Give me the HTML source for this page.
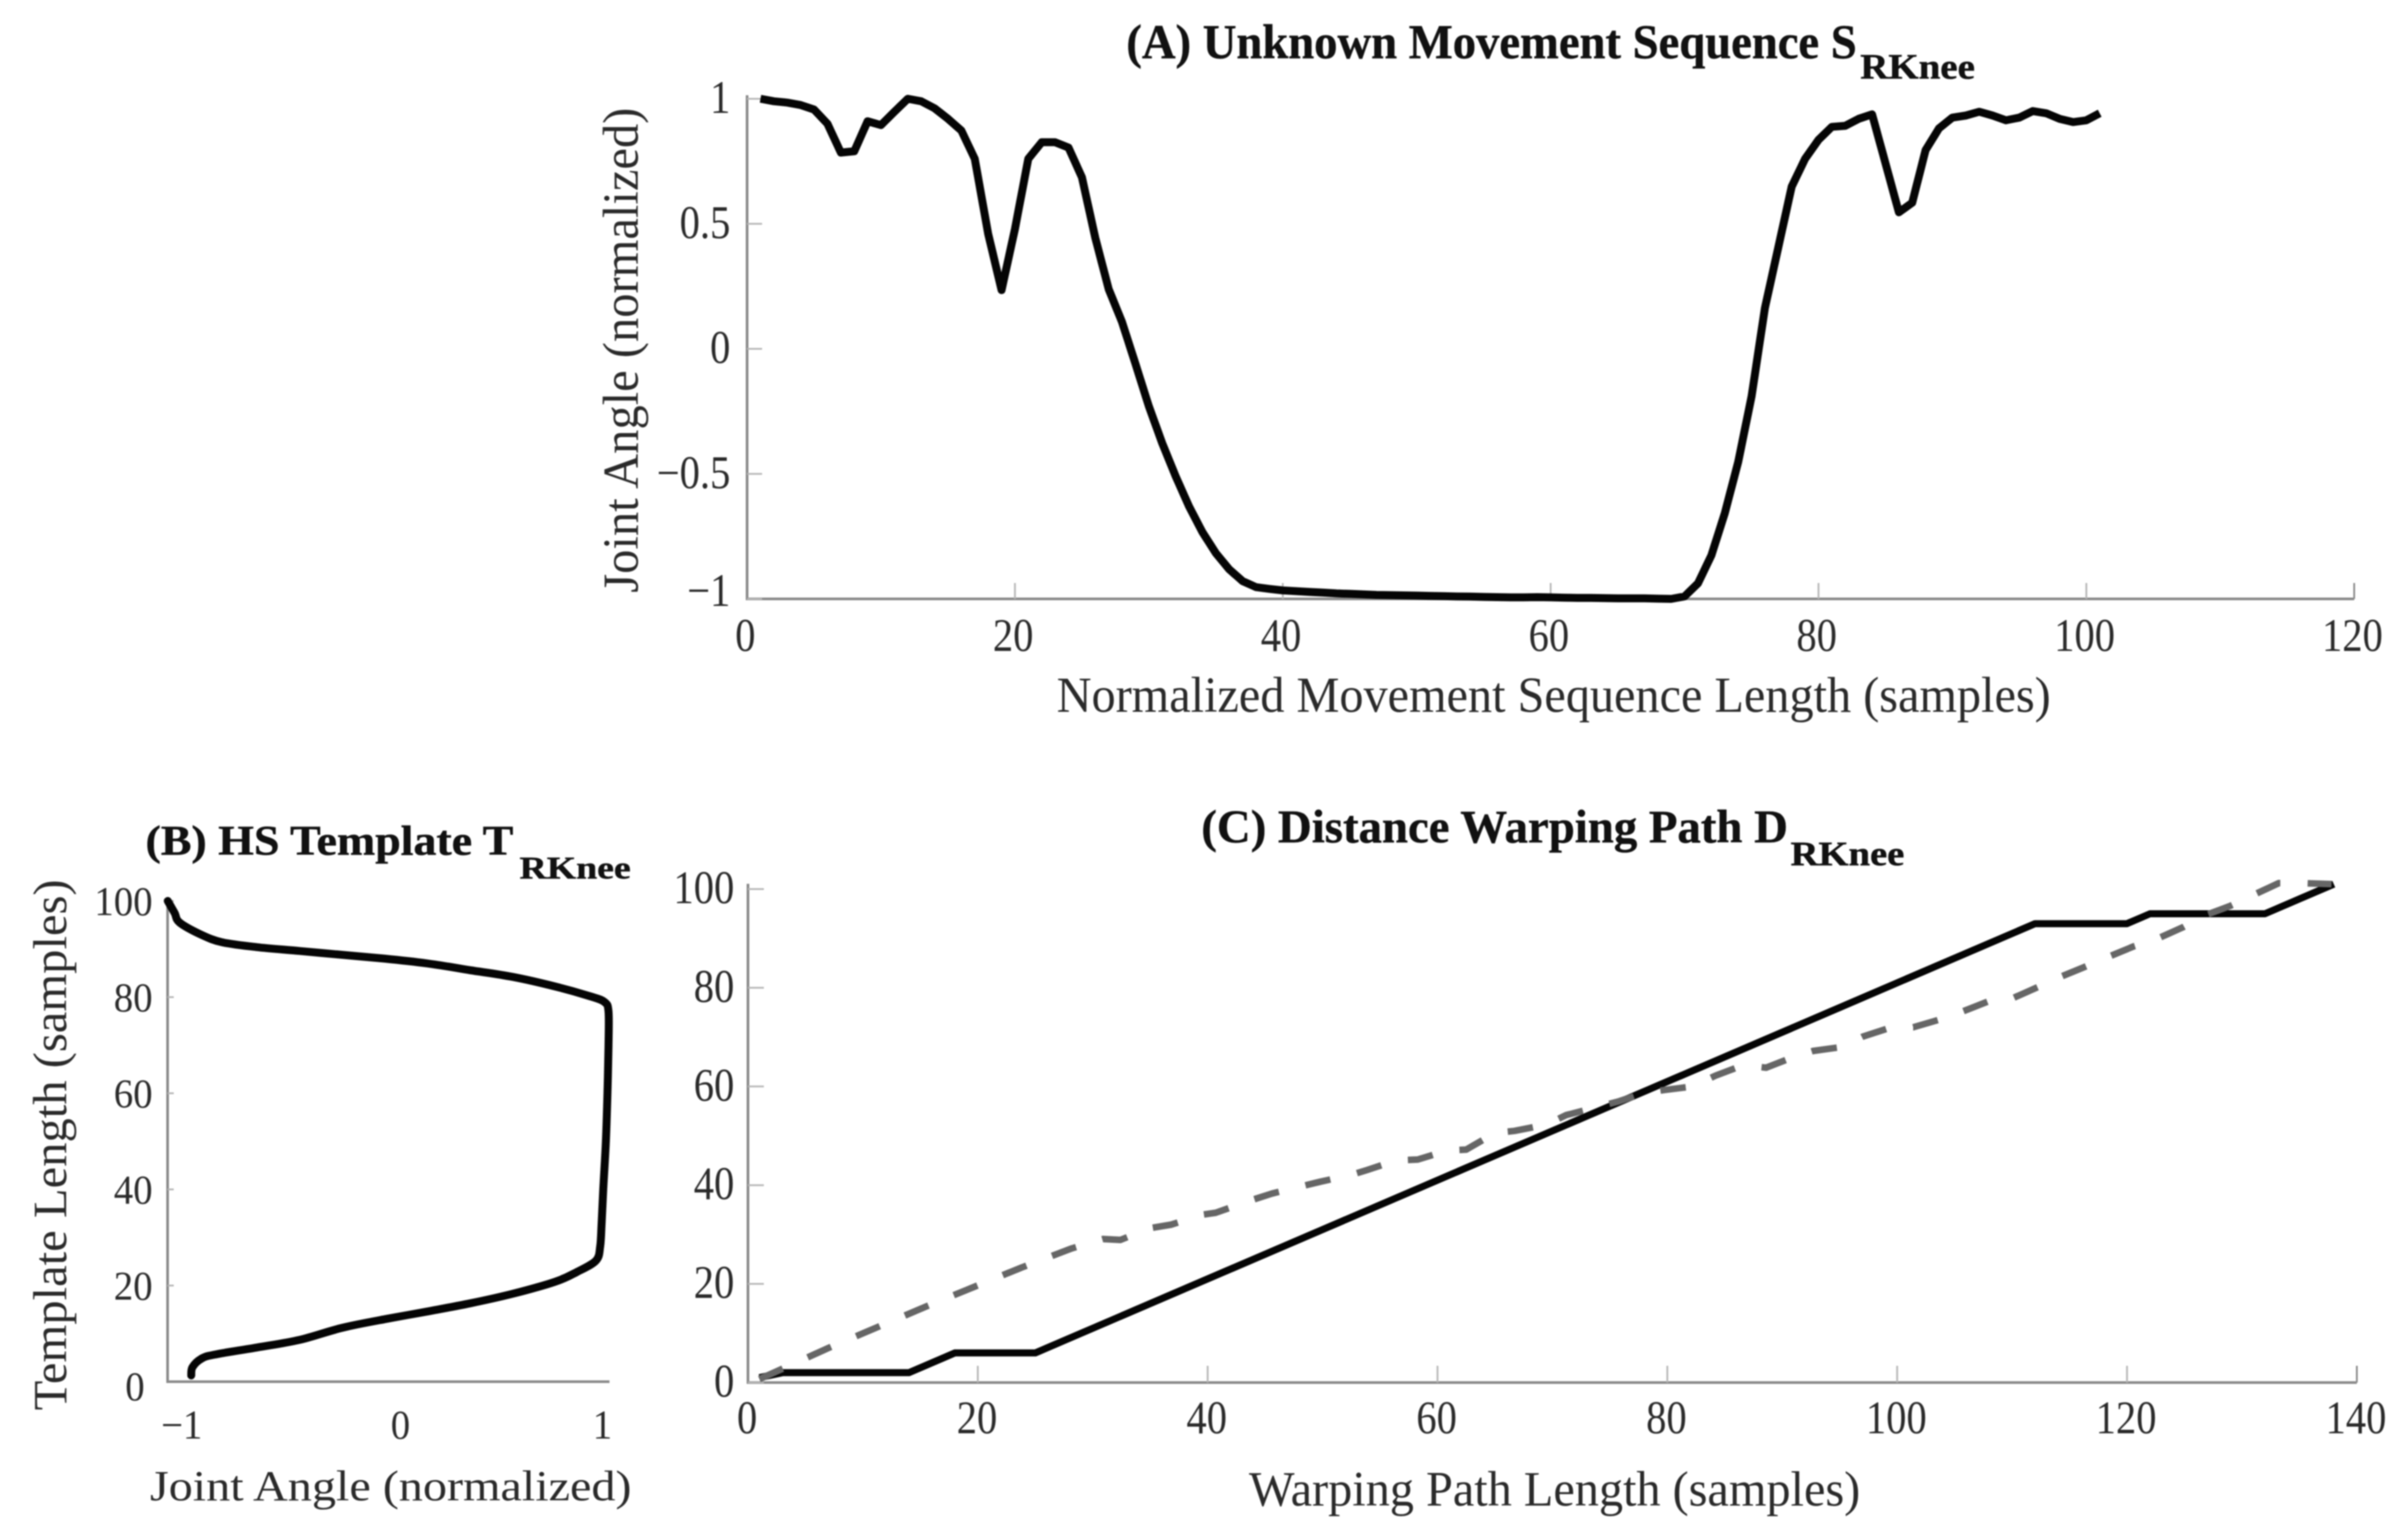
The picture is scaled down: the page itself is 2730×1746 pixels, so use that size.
<!DOCTYPE html>
<html lang="en">
<head>
<meta charset="utf-8">
<title>Knee Movement Sequence, Template and Warping Path</title>
<style>
html,body{margin:0;padding:0;background:#fff;width:2730px;height:1746px;overflow:hidden}
svg{display:block;filter:blur(0.8px)}
text{font-family:"Liberation Serif","Times New Roman",serif;fill:#2a2a2a}
.ttl{font-weight:700;fill:#111;stroke:#111;stroke-width:0.5px}
</style>
</head>
<body>
<svg id="figure" xmlns="http://www.w3.org/2000/svg" width="2730" height="1746" viewBox="0 0 2730 1746">
  <rect width="2730" height="1746" fill="#fff"/>

  <g>
    <text class="ttl" x="1277" y="66" font-size="55" textLength="828" lengthAdjust="spacingAndGlyphs">(A) Unknown Movement Sequence S</text>
    <text class="ttl" x="2109" y="89" font-size="40" textLength="130" lengthAdjust="spacingAndGlyphs">RKnee</text>
    <text x="1198" y="807" font-size="57" textLength="1127" lengthAdjust="spacingAndGlyphs">Normalized Movement Sequence Length (samples)</text>
    <text transform="translate(723,672) rotate(-90)" x="0" y="0" font-size="57" textLength="550" lengthAdjust="spacingAndGlyphs">Joint Angle (normalized)</text>
  </g>

  <g>
    <text class="ttl" x="165" y="969" font-size="48" textLength="417" lengthAdjust="spacingAndGlyphs">(B) HS Template T</text>
    <text class="ttl" x="589" y="996" font-size="36" textLength="126" lengthAdjust="spacingAndGlyphs">RKnee</text>
    <text x="170" y="1701" font-size="49" textLength="546" lengthAdjust="spacingAndGlyphs">Joint Angle (normalized)</text>
    <text transform="translate(75,1599) rotate(-90)" x="0" y="0" font-size="54" textLength="602" lengthAdjust="spacingAndGlyphs">Template Length (samples)</text>
  </g>

  <g>
    <text class="ttl" x="1362" y="955" font-size="53" textLength="665" lengthAdjust="spacingAndGlyphs">(C) Distance Warping Path D</text>
    <text class="ttl" x="2030" y="981" font-size="39" textLength="129" lengthAdjust="spacingAndGlyphs">RKnee</text>
    <text x="1416" y="1707" font-size="56" textLength="693" lengthAdjust="spacingAndGlyphs">Warping Path Length (samples)</text>
  </g>
</svg>

<script>
// Panel A: joint angle per sample, sample number = position + 1
const sequenceAngle = [
  1.0,.99,.985,.975,.957,.90,.785,.79,.91,.895,
  .948,1.0,.99,.962,.92,.873,.76,.46,.235,.48,
  .76,.826,.826,.805,.686,.443,.238,.107,-.06,-.23,
  -.378,-.51,-.63,-.733,-.817,-.882,-.929,-.953,-.96,-.966,
  -.969,-.972,-.975,-.978,-.98,-.982,-.984,-.985,-.986,-.987,
  -.988,-.989,-.99,-.991,-.992,-.993,-.994,-.994,-.993,-.994,
  -.995,-.996,-.996,-.997,-.998,-.998,-.998,-.999,-1.0,-.99,
  -.938,-.826,-.658,-.453,-.19,.163,.406,.649,.76,.836,
  .888,.892,.92,.938,.742,.546,.584,.795,.882,.925,
  .933,.948,.933,.914,.925,.951,.942,.92,.907,.914,.942
];
const aXTicks = [0,20,40,60,80,100,120];
const aYTicks = [1,0.5,0,-0.5,-1];
const aYTickLabels = ["1","0.5","0","\u22120.5","\u22121"];

// Panel B: template curve
const templateAngle = [-1.036,-1.03,-.987,-.924,-.712,-.5,-.29,-.078,.133,.345,.556,.767,.873,.968,.989,.996,1.004,1.017,1.025,1.03,1.03,1.01,.937,.767,.556,.345,.133,-.078,-.29,-.5,-.712,-.882,-.987,-1.093,-1.118,-1.152];
const templateSample = [1.3,3,4.75,5.6,7.1,8.7,11.2,13,14.6,16.3,18.3,20.8,22.8,25.2,28.2,33,40,50,60,70,77,79,80.2,82.2,84.2,85.6,87,88,88.8,89.6,90.4,91.4,93,95.5,97.5,100];
const bXTicks = [-1,0,1];
const bXTickLabels = ["\u22121","0","1"];
const bYTicks = [0,20,40,60,80,100];

// Panel C: warping paths
const pathSolidX = [1,3,14,18,25,112,120,122,132,138];
const pathSolidY = [1,2,2,6,6,93,93,95,95,101];
const pathDashedX = [1,7,15.7,23.8,28.2,30.9,32.4,35,36.8,39.5,40.7,43.6,45.6,49.8,52.5,53.9,56.4,58.3,60.8,62.5,65,66.7,69.5,71.2,75.8,78,79.8,82.2,84.2,86.6,88.6,90.8,92.7,95.2,97,99.5,101.4,103.6,105.6,108,109.8,112.3,114.2,116.5,118.4,120.6,122.6,124.9,126.8,129,131,133.2,135.4,137.8];
const pathDashedY = [0.7,7,15.6,23.3,27.2,29.1,28.9,31.3,32,34,34.4,36.8,38.3,40.7,42.1,43.1,45,45.2,47,47.2,50.6,51,52.3,54.2,57,58.7,59.3,60,62.2,64.3,63.8,65.8,67.2,68,70.1,72,72,73.5,75.1,77.3,77.6,80.2,82.2,84.4,86.3,88.4,89.9,92.3,94.7,96.6,98.8,101.2,101.2,101];
const cXTicks = [0,20,40,60,80,100,120,140];
const cYTicks = [0,20,40,60,80,100];

const NS = "http://www.w3.org/2000/svg";
const svg = document.getElementById("figure");

function make(tag, attrs, parent) {
  const el = document.createElementNS(NS, tag);
  for (const k in attrs) el.setAttribute(k, attrs[k]);
  parent.appendChild(el);
  return el;
}
function seg(parent, x1, y1, x2, y2, color, w) {
  const l = make("line", {x1, y1, x2, y2, stroke: color, "stroke-width": w}, parent);
  
  return l;
}
function label(parent, x, y, str, anchor, size, sy) {
  const t = make("text", {
    x: 0, y: 0, "text-anchor": anchor, "font-size": size,
    transform: "translate(" + x + "," + y + ") scale(1," + (sy || 1) + ")"
  }, parent);
  t.textContent = str;
  
  return t;
}
function polyline(parent, xs, ys, color, w, dash) {
  const pts = xs.map((x, i) => x.toFixed(1) + "," + ys[i].toFixed(1)).join(" ");
  const attrs = {points: pts, fill: "none", stroke: color, "stroke-width": w, "stroke-linejoin": "round"};
  if (dash) attrs["stroke-dasharray"] = dash;
  const p = make("polyline", attrs, parent);
  
  return p;
}
function smoothPath(parent, xs, ys, color, w) {
  let d = "M" + xs[0].toFixed(1) + " " + ys[0].toFixed(1);
  for (let i = 0; i < xs.length - 1; i++) {
    const a = Math.max(i - 1, 0), c = i + 1, e = Math.min(i + 2, xs.length - 1);
    const c1x = xs[i] + (xs[c] - xs[a]) / 6, c1y = ys[i] + (ys[c] - ys[a]) / 6;
    const c2x = xs[c] - (xs[e] - xs[i]) / 6, c2y = ys[c] - (ys[e] - ys[i]) / 6;
    d += " C" + c1x.toFixed(1) + " " + c1y.toFixed(1) + " " + c2x.toFixed(1) + " " + c2y.toFixed(1) + " " + xs[c].toFixed(1) + " " + ys[c].toFixed(1);
  }
  const p = make("path", {d, fill: "none", stroke: color, "stroke-width": w, "stroke-linecap": "round"}, parent);
  
  return p;
}

const AXIS = "#8a8a8a", TICK = "#b5b5b5";

/* ---------- Panel A ---------- */
const ax = v => 847 + v * (2669 - 847) / 120;
const ay = v => 395.5 - v * 283.5;
const gA = make("g", {}, svg);


seg(gA, ax(0), 108, ax(0), ay(-1) + 1.5, AXIS, 3);
seg(gA, ax(0), ay(-1), ax(120), ay(-1), AXIS, 3);
aXTicks.forEach(v => {
  if (v > 0) {
    const tk = seg(gA, ax(v), ay(-1), ax(v), ay(-1) - 18, v === 120 ? AXIS : TICK, 2);
    
  }
  const t = label(gA, ax(v) - 2, 738, String(v), "middle", 46, 1.14);
  
});
aYTicks.forEach((v, i) => {
  const tk = seg(gA, ax(0), ay(v), ax(0) + 17, ay(v), TICK, 2);
  
  const t = label(gA, 828, ay(v) + (v === -1 ? 8 : 16), aYTickLabels[i], "end", 46, 1.14);
  
});
const seqLine = polyline(gA, sequenceAngle.map((_, i) => ax(i + 1)), sequenceAngle.map(ay), "#050505", 9);


/* ---------- Panel B ---------- */
const bx = v => 454 + v * 229;
const by = v => 1566.5 - v * 5.45;
const gB = make("g", {}, svg);


seg(gB, 190, by(100), 190, by(0) + 1.5, AXIS, 3);
seg(gB, 190, by(0), 691, by(0), AXIS, 3);
bXTicks.forEach((v, i) => {
  const t = label(gB, bx(v) + (v === -1 ? -19 : 0), 1631, bXTickLabels[i], "middle", 44, 1.05);
  
});
bYTicks.forEach(v => {
  if (v > 0) {
    const tk = seg(gB, 190, by(v), 197, by(v), TICK, 2);
    
  }
  const t = label(gB, v === 0 ? 164 : 173, by(v) + (v === 0 ? 21 : 16), String(v), "end", 44, 1.05);
  
});
const tplLine = smoothPath(gB, templateAngle.map(bx), templateSample.map(by), "#050505", 9);


/* ---------- Panel C ---------- */
const cx = v => 848 + v * (2672 - 848) / 140;
const cy = v => 1567.5 - v * 5.595;
const gC = make("g", {}, svg);


seg(gC, cx(0), 1002, cx(0), cy(0) + 1.5, AXIS, 3);
seg(gC, cx(0), cy(0), cx(140), cy(0), AXIS, 3);
cXTicks.forEach(v => {
  if (v > 0) {
    const tk = seg(gC, cx(v), cy(0), cx(v), cy(0) - 19, v === 140 ? AXIS : TICK, 2);
    
  }
  const t = label(gC, cx(v) - 1, 1625, String(v), "middle", 46, 1.14);
  
});
cYTicks.forEach(v => {
  const tk = seg(gC, cx(0), cy(v), cx(0) + 18, cy(v), TICK, 2);
  
  const t = label(gC, 832.5, cy(v) + 16, String(v), "end", 46, 1.14);
  
});
const solidLine = polyline(gC, pathSolidX.map(cx), pathSolidY.map(cy), "#050505", 8);

const dashLine = polyline(gC, pathDashedX.map(cx), pathDashedY.map(cy), "#666666", 7.5, "29 31");

</script>
</body>
</html>
